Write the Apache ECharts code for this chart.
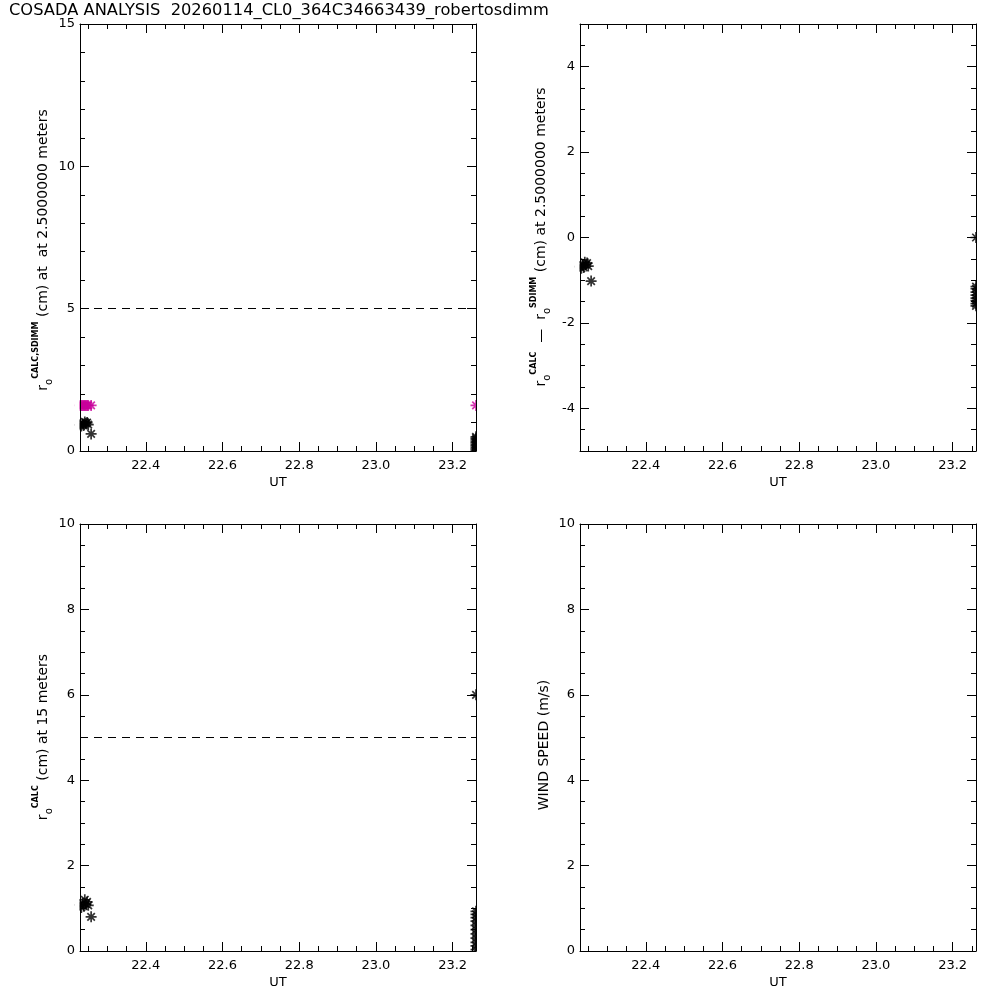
<!DOCTYPE html>
<html><head><meta charset="utf-8">
<script src="https://cdn.jsdelivr.net/npm/echarts@6/dist/echarts.min.js"></script>
<style>html,body{margin:0;padding:0;background:#fff}#c{width:1000px;height:1000px}</style>
</head><body><div id="c"></div>
<script>
// ---------- data ----------
const titleText = 'COSADA ANALYSIS  20260114_CL0_364C34663439_robertosdimm';
const utMin = 22.2285, utMax = 23.261;
const utTicks = [22.4, 22.6, 22.8, 23.0, 23.2];
const utMinorTicks = [22.25, 22.3, 22.35, 22.45, 22.5, 22.55, 22.65, 22.7, 22.75, 22.85, 22.9, 22.95, 23.05, 23.1, 23.15, 23.25];
const yTicksTL = [0, 5, 10, 15];
const yMinorTL = [1, 2, 3, 4, 6, 7, 8, 9, 11, 12, 13, 14];
const yTicksTR = [-4, -2, 0, 2, 4];
const yMinorTR = [-4.5, -3.5, -3, -2.5, -1.5, -1, -0.5, 0.5, 1, 1.5, 2.5, 3, 3.5, 4.5];
const yTicksB = [0, 2, 4, 6, 8, 10];
const yMinorB = [0.5, 1, 1.5, 2.5, 3, 3.5, 4.5, 5, 5.5, 6.5, 7, 7.5, 8.5, 9, 9.5];

// early measurements
const utStart      = [22.2290, 22.2320, 22.2350, 22.2380, 22.2410, 22.2440, 22.2470, 22.2500, 22.2575];
const rCalc25Start = [0.92, 0.88, 0.95, 0.90, 1.02, 0.97, 1.00, 0.93, 0.60];
const rSdimmStart  = [1.60, 1.60, 1.60, 1.60, 1.60, 1.60, 1.60, 1.60, 1.60];
const dRStart      = [-0.68, -0.72, -0.65, -0.70, -0.58, -0.63, -0.60, -0.67, -1.02];
const rCalc15Start = [1.08, 1.02, 1.12, 1.05, 1.20, 1.10, 1.15, 1.07, 0.80];
// measurements at end of range
const utEnd = 23.261;
const rCalc25End = [0.02, 0.07, 0.12, 0.18, 0.23, 0.29, 0.34, 0.40, 0.45, 0.50];
const rSdimmEnd  = [1.60];
const dREnd      = [0.00, -1.15, -1.20, -1.28, -1.35, -1.42, -1.48, -1.55, -1.60];
const rCalc15End = [6.00, 0.03, 0.12, 0.20, 0.30, 0.40, 0.50, 0.60, 0.70, 0.78, 0.86, 0.93];
const limit25 = 5, limit15 = 5;
const windSpeed = [];

// ---------- helpers ----------
const FONT = 'DejaVu Sans';
const STAR = 'path://M5,0L5,10M0,5L10,5M1.6,1.6L8.4,8.4M8.4,1.6L1.6,8.4';
const rects = [
  {left: 80, top: 24},
  {left: 580, top: 24},
  {left: 80, top: 524},
  {left: 580, top: 524}
];
const W = 396, H = 427;
const yDefs = [
  {min: 0, max: 15, major: yTicksTL, minor: yMinorTL},
  {min: -5, max: 5, major: yTicksTR, minor: yMinorTR},
  {min: 0, max: 10, major: yTicksB, minor: yMinorB},
  {min: 0, max: 10, major: yTicksB, minor: yMinorB}
];
const grid = [], xAxis = [], yAxis = [];
rects.forEach((r, p) => {
  grid.push({left: r.left, top: r.top, width: W, height: H});
  grid.push({left: r.left, top: r.top, width: W, height: H});
  const gm = 2 * p, go = 2 * p + 1;
  const lineOn = {show: true, onZero: false, lineStyle: {color: '#000', width: 1}};
  const lineOff = {show: false, onZero: false};
  [['bottom', gm, utTicks, 9, true], ['top', gm, utTicks, 9, false],
   ['bottom', go, utMinorTicks, 5, false], ['top', go, utMinorTicks, 5, false]].forEach(([pos, g, vals, len, lab], i) => {
    xAxis.push({
      type: 'value', gridIndex: g, position: pos, min: utMin, max: utMax, z: 10,
      axisLine: i < 2 ? lineOn : lineOff,
      axisTick: {show: true, inside: true, length: len, customValues: vals, lineStyle: {color: '#000', width: 1}},
      axisLabel: lab ? {show: true, customValues: utTicks, formatter: v => v.toFixed(1), color: '#000', fontFamily: FONT, fontSize: 13, margin: 8} : {show: false},
      splitLine: {show: false},
      name: lab ? 'UT' : '', nameLocation: 'middle', nameGap: 25,
      nameTextStyle: {color: '#000', fontFamily: FONT, fontSize: 13}
    });
  });
  const d = yDefs[p];
  [['left', gm, d.major, 9, true], ['right', gm, d.major, 9, false],
   ['left', go, d.minor, 5, false], ['right', go, d.minor, 5, false]].forEach(([pos, g, vals, len, lab], i) => {
    yAxis.push({
      type: 'value', gridIndex: g, position: pos, min: d.min, max: d.max, z: 10,
      axisLine: i < 2 ? lineOn : lineOff,
      axisTick: {show: true, inside: true, length: len, customValues: vals, lineStyle: {color: '#000', width: 1}},
      axisLabel: lab ? {show: true, customValues: d.major, formatter: v => String(v), color: '#000', fontFamily: FONT, fontSize: 13, margin: 5} : {show: false},
      splitLine: {show: false}
    });
  });
});

function pts(xs, ys) { return ys.map((y, i) => [Array.isArray(xs) ? xs[i] : xs, y]); }
function scatter(p, data, color, mark) {
  const s = {
    type: 'scatter', xAxisIndex: 4 * p, yAxisIndex: 4 * p, data: data, z: 2,
    symbol: STAR, symbolSize: 11, clip: true, animation: false,
    itemStyle: {color: color, borderColor: color, borderWidth: 1.7}
  };
  if (mark !== undefined) {
    s.markLine = {silent: true, symbol: ['none', 'none'], label: {show: false},
      lineStyle: {color: '#000', width: 1, type: [8, 6]}, data: [{yAxis: mark}], animation: false};
  }
  return s;
}
const BLACK = '#000', MAG = '#C8009B';
const series = [
  scatter(0, pts(utStart, rCalc25Start).concat(pts(utEnd, rCalc25End)), BLACK, limit25),
  scatter(0, pts(utStart, rSdimmStart).concat(pts(utEnd, rSdimmEnd)), MAG),
  scatter(1, pts(utStart, dRStart).concat(pts(utEnd, dREnd)), BLACK),
  scatter(2, pts(utStart, rCalc15Start).concat(pts(utEnd, rCalc15End)), BLACK, limit15),
  scatter(3, windSpeed, BLACK)
];

function yName(x, y, tokens) {
  return {
    type: 'text', x: x, y: y, rotation: Math.PI / 2, silent: true, z: 20,
    style: {
      text: tokens, align: 'center', verticalAlign: 'middle', fill: '#000',
      font: '14px ' + FONT,
      rich: {
        t: {fontSize: 14, fontFamily: FONT, fill: '#000', lineHeight: 22},
        o: {fontSize: 10, fontFamily: FONT, fill: '#000', verticalAlign: 'bottom'},
        s: {fontSize: 8, fontFamily: FONT, fontWeight: 'bold', fill: '#000', verticalAlign: 'top'}
      }
    }
  };
}
// white masks just outside each frame so edge markers appear clipped by the frame
function masks(r) {
  const st = {fill: '#fff'};
  return [
    {type: 'rect', silent: true, z: 5, shape: {x: r.left - 5.5, y: r.top - 6, width: 5, height: H + 12}, style: st},
    {type: 'rect', silent: true, z: 5, shape: {x: r.left + W + 0.5, y: r.top - 6, width: 6, height: H + 12}, style: st},
    {type: 'rect', silent: true, z: 5, shape: {x: r.left - 5.5, y: r.top + H + 0.5, width: W + 12, height: 6}, style: st}
  ];
}
const graphic = [].concat(...rects.map(masks), [
  yName(43, 250, '{t|r}{o|o}{s|CALC,SDIMM}{t| (cm) at  at 2.5000000 meters}'),
  yName(541, 237, '{t|r}{o|o}{s|CALC}{t|  —  r}{o|o}{s|SDIMM}{t| (cm) at 2.5000000 meters}'),
  yName(43, 737, '{t|r}{o|o}{s|CALC}{t| (cm) at 15 meters}'),
  yName(544, 745, '{t|WIND SPEED (m/s)}')
]);

const chart = echarts.init(document.getElementById('c'), null, {renderer: 'canvas'});
chart.setOption({
  backgroundColor: '#fff',
  animation: false,
  title: {text: titleText, left: 4, top: -2, textStyle: {color: '#000', fontFamily: FONT, fontSize: 16.3, fontWeight: 'normal'}},
  grid: grid, xAxis: xAxis, yAxis: yAxis, series: series, graphic: graphic
});
</script></body></html>
